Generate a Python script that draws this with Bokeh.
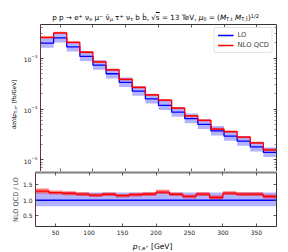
from bokeh.plotting import figure
from bokeh.models import (Range1d, LogAxis, LinearAxis, FixedTicker, LogTicker, Div,
                          Legend, LegendItem, PrintfTickFormatter, CustomJSTickFormatter)
from bokeh.layouts import column, row
from bokeh.embed import file_html
from bokeh.resources import INLINE

# ---------------- data ----------------
bin_edges = [20, 40, 60, 80, 100, 120, 140, 160, 180, 200, 220, 240, 260, 280, 300, 320, 340, 360, 380]
lo = [1.97e-3, 2.51e-3, 1.67e-3, 1.09e-3, 7.3e-4, 4.94e-4, 3.34e-4, 2.25e-4, 1.58e-4,
      1.18e-4, 8.7e-5, 6.5e-5, 5.0e-5, 3.7e-5, 2.92e-5, 2.33e-5, 1.80e-5, 1.40e-5]
nlo = [2.56e-3, 3.14e-3, 2.05e-3, 1.31e-3, 8.5e-4, 5.9e-4, 3.84e-4, 2.66e-4, 1.90e-4,
       1.49e-4, 1.04e-4, 7.3e-5, 6.0e-5, 4.03e-5, 3.59e-5, 2.80e-5, 2.16e-5, 1.57e-5]
lo_band_down = [0.81, 0.81, 0.81, 0.81, 0.81, 0.81, 0.81, 0.81, 0.81, 0.81, 0.81, 0.81, 0.81, 0.81, 0.81, 0.81, 0.81, 0.81]
lo_band_up = [1.25, 1.25, 1.25, 1.25, 1.25, 1.25, 1.25, 1.25, 1.25, 1.25, 1.25, 1.25, 1.25, 1.25, 1.25, 1.25, 1.25, 1.25]
nlo_band_down = [0.94, 0.95, 0.95, 0.95, 0.95, 0.95, 0.95, 0.95, 0.95, 0.95, 0.95, 0.94, 0.95, 0.94, 0.95, 0.95, 0.95, 0.94]
nlo_band_up = [1.06, 1.05, 1.05, 1.05, 1.05, 1.05, 1.05, 1.05, 1.05, 1.06, 1.05, 1.05, 1.05, 1.06, 1.05, 1.05, 1.05, 1.06]
xticks = [50, 100, 150, 200, 250, 300, 350]
ratio_ticks = [0.5, 1.0, 1.5]

FONT = "DejaVu Sans"
LEFT_SPINE = "#70302a"
SPINE = "#333333"
MID = "#808080"
LO_C = "#0000ff"
NLO_C = "#ff0000"
LW = 1.3

left = bin_edges[:-1]
right = bin_edges[1:]
lo_dn = [v * f for v, f in zip(lo, lo_band_down)]
lo_up = [v * f for v, f in zip(lo, lo_band_up)]
nlo_dn = [v * f for v, f in zip(nlo, nlo_band_down)]
nlo_up = [v * f for v, f in zip(nlo, nlo_band_up)]
r_nlo = [n / l for n, l in zip(nlo, lo)]
r_lo = [1.0 for _ in lo]
r_lo_dn = list(lo_band_down)
r_lo_up = list(lo_band_up)
r_nlo_dn = [r * f for r, f in zip(r_nlo, nlo_band_down)]
r_nlo_up = [r * f for r, f in zip(r_nlo, nlo_band_up)]

def step_xy(vals):
    xs, ys = [], []
    for i, v in enumerate(vals):
        xs += [bin_edges[i], bin_edges[i + 1]]
        ys += [v, v]
    return xs, ys

# ---------------- html text helpers ----------------
def sup(t):
    return f'<sup style="font-size:70%;vertical-align:0.45em;line-height:0">{t}</sup>'

def sub(t):
    return f'<sub style="font-size:70%;vertical-align:-0.28em;line-height:0">{t}</sub>'

def it(t):
    return f'<i>{t}</i>'

# ---------------- geometry ----------------
TITLE_H = 22
TOP_H = 149
RAT_H = 66
XLAB_H = 15
YLAB_W = 20
FULL_W = 288
FRAME_LEFT = 35
FRAME_W = 241

def style_axis(ax, color, labels=True, width=1.0):
    ax.axis_line_color = color
    ax.axis_line_width = width
    ax.major_tick_in = 3
    ax.major_tick_out = 0
    ax.minor_tick_in = 2
    ax.minor_tick_out = 0
    ax.major_tick_line_color = SPINE
    ax.minor_tick_line_color = SPINE
    ax.major_tick_line_width = 0.8
    ax.minor_tick_line_width = 0.6
    ax.axis_label = None
    if labels:
        ax.major_label_text_font = FONT
        ax.major_label_text_font_size = "6px"
        ax.major_label_text_color = "#222222"
        ax.major_label_standoff = 3
    else:
        ax.formatter = CustomJSTickFormatter(code="return ''")
        ax.major_label_text_font_size = "1px"
        ax.major_label_standoff = 0

x_range = Range1d(bin_edges[0], bin_edges[-1])

# ---------------- title ----------------
title_html = (
    f'<div style="margin-left:{FRAME_LEFT}px;width:{FRAME_W}px;padding-top:14px;text-align:center;'
    f'white-space:nowrap;font-family:\'DejaVu Sans\';font-size:7.2px;line-height:7px;color:#000">'
    f'p p → e{sup("+")} ν{sub("e")} μ{sup("−")} ν\u0304{sub("μ")} τ{sup("+")} ν{sub("τ")} '
    f'b b\u0304, √<span style="text-decoration:overline">s</span> = 13 TeV, '
    f'{it("μ")}{sub("0")} = ({it("M")}{sub("T,t")} {it("M")}{sub("T,t" + chr(0x304))}){sup("1/2")}'
    f'</div>'
)
title_div = Div(text=title_html, width=FULL_W, height=TITLE_H, margin=0)

# ---------------- y label of top panel ----------------
ylab_html = (
    f'<div style="width:{TOP_H - 2}px;transform-origin:0 0;'
    f'transform:translate(11px,{TOP_H}px) rotate(-90deg);text-align:center;white-space:nowrap;'
    f'font-family:\'DejaVu Sans\';font-size:5.6px;line-height:6px;color:#000">'
    f'd{it("σ")}/d{it("p")}{sub("T,e" + sup("+"))} [fb/GeV]</div>'
)
ylab_div = Div(text=ylab_html, width=YLAB_W, height=TOP_H, margin=0)

# ---------------- top panel ----------------
top = figure(width=FULL_W - YLAB_W, height=TOP_H, x_range=x_range, y_axis_type="log",
             y_range=Range1d(5.9e-6, 4.6e-3), output_backend="svg", toolbar_location=None,
             min_border_left=FRAME_LEFT - YLAB_W, min_border_right=FULL_W - FRAME_LEFT - FRAME_W,
             min_border_top=2, min_border_bottom=0)
top.outline_line_color = None
top.grid.visible = False
top.background_fill_color = "white"
top.border_fill_color = "white"

top.quad(left=left, right=right, bottom=lo_dn, top=lo_up, fill_color="blue",
         fill_alpha=0.3, line_color=None)
top.quad(left=left, right=right, bottom=nlo_dn, top=nlo_up, fill_color="red",
         fill_alpha=0.5, line_color=None)
sx, sy = step_xy(lo)
lo_line = top.line(x=sx, y=sy, line_color=LO_C, line_width=LW)
sx, sy = step_xy(nlo)
nlo_line = top.line(x=sx, y=sy, line_color=NLO_C, line_width=LW)

yl = top.yaxis[0]
style_axis(yl, LEFT_SPINE, labels=True)
yl.ticker = LogTicker(num_minor_ticks=10)
xb = top.xaxis[0]
style_axis(xb, MID, labels=False)
xb.axis_line_color = None
xb.ticker = FixedTicker(ticks=xticks)
xb.minor_tick_line_color = None

ra = LogAxis(ticker=LogTicker(num_minor_ticks=10))
style_axis(ra, SPINE, labels=False)
top.add_layout(ra, "right")
ab = LinearAxis(ticker=FixedTicker(ticks=xticks))
style_axis(ab, SPINE, labels=False)
ab.minor_tick_line_color = None
top.add_layout(ab, "above")

legend = Legend(items=[LegendItem(label="LO", renderers=[lo_line]),
                       LegendItem(label="NLO QCD", renderers=[nlo_line])],
                location="top_right", margin=3, padding=3, spacing=2,
                label_text_font=FONT, label_text_font_size="6.8px",
                label_height=8, label_width=10, glyph_height=8, glyph_width=16,
                label_standoff=4,
                border_line_color="#cccccc", border_line_width=0.8,
                background_fill_alpha=0.85)
if "border_radius" in Legend.properties():
    legend.border_radius = 2
top.add_layout(legend, "center")

# ---------------- ratio panel ----------------
rat = figure(width=FULL_W, height=RAT_H, x_range=x_range, y_range=Range1d(0.15, 1.9),
             output_backend="svg", toolbar_location=None,
             min_border_left=FRAME_LEFT, min_border_right=FULL_W - FRAME_LEFT - FRAME_W,
             min_border_top=1, min_border_bottom=10)
rat.outline_line_color = None
rat.grid.visible = False
rat.background_fill_color = "white"
rat.border_fill_color = "white"

rat.quad(left=left, right=right, bottom=r_lo_dn, top=r_lo_up, fill_color="blue",
         fill_alpha=0.3, line_color=None)
rat.quad(left=left, right=right, bottom=r_nlo_dn, top=r_nlo_up, fill_color="red",
         fill_alpha=0.5, line_color=None)
sx, sy = step_xy(r_lo)
rat.line(x=sx, y=sy, line_color=LO_C, line_width=LW)
sx, sy = step_xy(r_nlo)
rat.line(x=sx, y=sy, line_color=NLO_C, line_width=LW)

ryl = rat.yaxis[0]
style_axis(ryl, LEFT_SPINE, labels=True)
ryl.ticker = FixedTicker(ticks=ratio_ticks)
ryl.formatter = PrintfTickFormatter(format="%.1f")
ryl.minor_tick_line_color = None
ryl.axis_label = "NLO QCD / LO"
ryl.axis_label_text_font = FONT
ryl.axis_label_text_font_size = "6.5px"
ryl.axis_label_text_font_style = "normal"
ryl.axis_label_standoff = 0

rxb = rat.xaxis[0]
style_axis(rxb, SPINE, labels=True)
rxb.ticker = FixedTicker(ticks=xticks)
rxb.minor_tick_line_color = None

rra = LinearAxis(ticker=FixedTicker(ticks=ratio_ticks))
style_axis(rra, SPINE, labels=False)
rra.minor_tick_line_color = None
rat.add_layout(rra, "right")
rab = LinearAxis(ticker=FixedTicker(ticks=xticks))
style_axis(rab, MID, labels=False, width=2)
rab.minor_tick_line_color = None
rat.add_layout(rab, "above")

# ---------------- x label ----------------
xlab_html = (
    f'<div style="margin-left:{FRAME_LEFT - 3}px;width:{FRAME_W}px;padding-top:0px;text-align:center;'
    f'white-space:nowrap;font-family:\'DejaVu Sans\';font-size:7.5px;line-height:8px;color:#000">'
    f'{it("p")}{sub("T,e" + sup("+"))} [GeV]</div>'
)
xlab_div = Div(text=xlab_html, width=FULL_W, height=XLAB_H, margin=0)

layout = column(title_div, row(ylab_div, top, spacing=0), rat, xlab_div, spacing=0)
open("out.html", "w").write(file_html(layout, INLINE))
